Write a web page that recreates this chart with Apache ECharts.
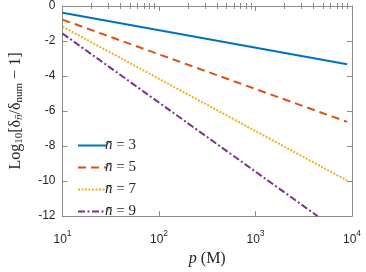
<!DOCTYPE html>
<html>
<head>
<meta charset="utf-8">
<script src="https://cdn.jsdelivr.net/npm/echarts@6/dist/echarts.min.js"></script>
<style>html,body{margin:0;padding:0;background:#fff}#c{width:366px;height:272px}</style>
</head>
<body>
<div id="c"></div>
<script>
// Data (x = p in M, y = Log10[...])
var seriesNames = ['3', '5', '7', '9'];
var n3 = [[10, -0.38], [8900, -3.33]];
var n5 = [[10, -0.78], [8900, -6.62]];
var n7 = [[10, -1.18], [8900, -9.97]];
var n9 = [[10, -1.57], [4400, -12.0]];
var xTicks = [10, 100, 1000, 10000];
var yTicks = [0, -2, -4, -6, -8, -10, -12];
var minorMultipliers = [2, 3, 4, 5, 6, 7, 8, 9];
var decades = [1, 2, 3];

var minorVals = [];
decades.forEach(function (d) {
  minorMultipliers.forEach(function (m) { minorVals.push(d + Math.log10(m)); });
});

var colors = ['#0072BD', '#D95319', '#EDB120', '#7E2F8E'];
var dashes = ['solid', [8, 5], [2, 1.5], [7, 2.5, 2, 2.5]];
var data = [n3, n5, n7, n9];
var axisCol = '#8a8a8a';
var serif = '"Liberation Serif","DejaVu Serif",serif';
var sans = '"Liberation Sans",Arial,sans-serif';

var chart = echarts.init(document.getElementById('c'), null, {renderer: 'canvas'});

function logAxis(pos, showLabel, showName) {
  return {
    type: 'log', logBase: 10, min: 10, max: 10000, position: pos,
    axisLine: {show: true, onZero: false, lineStyle: {color: axisCol, width: 1}},
    axisTick: {show: true, inside: true, length: 5, lineStyle: {color: axisCol}},
    minorTick: {show: false},
    splitLine: {show: false},
    axisLabel: {
      show: showLabel, margin: 13,
      formatter: function (v) { return '{b|10}{s|' + Math.round(Math.log10(v)) + '}'; },
      rich: {
        b: {fontFamily: sans, fontSize: 12, color: '#262626', verticalAlign: 'bottom'},
        s: {fontFamily: sans, fontSize: 8.5, color: '#262626', verticalAlign: 'top', padding: [0, 0, 8, 0]}
      }
    },
    name: showName ? '{i|p}{r| (M)}' : '',
    nameLocation: 'middle', nameGap: 31,
    nameTextStyle: {
      fontFamily: serif, fontSize: 16, color: '#262626',
      rich: {
        i: {fontFamily: serif, fontStyle: 'italic', fontSize: 16, color: '#262626'},
        r: {fontFamily: serif, fontSize: 16, color: '#262626'}
      }
    }
  };
}
function minorAxis(pos) {
  return {
    type: 'value', min: 1, max: 4, position: pos,
    axisLine: {show: false},
    axisLabel: {show: false},
    splitLine: {show: false},
    axisTick: {show: true, inside: true, length: 3, customValues: minorVals, lineStyle: {color: axisCol}}
  };
}

var rs = {fontFamily: serif, color: '#262626'};
var yName = '{m|Log}{sub|10}{m|[δ}{sub2|n̄}{m|/δ}{sub|num}{m| − 1]}';

chart.setOption({
  animation: false,
  backgroundColor: '#fff',
  grid: {left: 54, right: 14, top: 4, bottom: 49, containLabel: false},
  xAxis: [logAxis('bottom', true, true), logAxis('top', false, false), minorAxis('bottom'), minorAxis('top')],
  yAxis: [
    {
      type: 'value', min: -12, max: 0, interval: 2, position: 'left',
      axisLine: {show: true, lineStyle: {color: axisCol}},
      axisTick: {show: true, inside: true, length: 5, lineStyle: {color: axisCol}},
      splitLine: {show: false},
      axisLabel: {fontFamily: sans, fontSize: 12, color: '#262626', margin: 7,
        formatter: function (v) { return yTicks.indexOf(v) >= 0 ? String(v) : ''; }},
      name: yName, nameLocation: 'middle', nameGap: 38, nameRotate: 90,
      nameTextStyle: {
        fontFamily: serif, fontSize: 16, color: '#262626',
        rich: {
          m: Object.assign({fontSize: 16}, rs),
          sub: Object.assign({fontSize: 11, padding: [6, 0, 0, 0]}, rs),
          sub2: Object.assign({fontSize: 11, fontStyle: 'italic', padding: [6, 0, 0, 0]}, rs)
        }
      }
    },
    {
      type: 'value', min: -12, max: 0, interval: 2, position: 'right',
      axisLine: {show: true, lineStyle: {color: axisCol}},
      axisTick: {show: true, inside: true, length: 5, lineStyle: {color: axisCol}},
      splitLine: {show: false},
      axisLabel: {show: false}
    }
  ],
  legend: {
    orient: 'vertical', left: 72, top: 133,
    itemWidth: 29, itemHeight: 14, itemGap: 7,
    itemStyle: {opacity: 0, borderWidth: 0},
    data: seriesNames.map(function (n) { return 'n' + n; }),
    formatter: function (name) { return '{i|n̄}{r| = ' + name.slice(1) + '}'; },
    textStyle: {
      fontFamily: serif, fontSize: 15, color: '#262626', padding: [0, 0, 0, -7],
      rich: {
        i: {fontFamily: serif, fontStyle: 'italic', fontSize: 15, color: '#262626'},
        r: {fontFamily: serif, fontSize: 15, color: '#262626'}
      }
    }
  },
  series: data.map(function (d, i) {
    return {
      name: 'n' + seriesNames[i], type: 'line', data: d,
      xAxisIndex: 0, yAxisIndex: 0,
      symbol: 'none', showSymbol: false,
      lineStyle: {color: colors[i], width: 2, type: dashes[i]},
      itemStyle: {color: colors[i]}
    };
  })
});
</script>
</body>
</html>
